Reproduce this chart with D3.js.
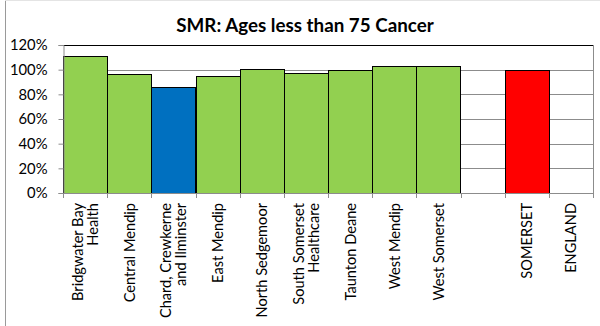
<!DOCTYPE html>
<html><head><meta charset="utf-8">
<script src="https://cdn.jsdelivr.net/npm/d3@7"></script>
<style>html,body{margin:0;padding:0;background:#fff;}svg{display:block;font-family:Lato,"Open Sans",sans-serif;}</style>
</head><body>
<script>
const categories = ["Bridgwater Bay Health","Central Mendip","Chard, Crewkerne and Ilminster","East Mendip","North Sedgemoor","South Somerset Healthcare","Taunton Deane","West Mendip","West Somerset","","SOMERSET","ENGLAND"];
const labelLines = [["Bridgwater Bay","Health"],["Central Mendip"],["Chard, Crewkerne","and Ilminster"],["East Mendip"],["North Sedgemoor"],["South Somerset","Healthcare"],["Taunton Deane"],["West Mendip"],["West Somerset"],[],["SOMERSET"],["ENGLAND"]];
const values = [111.3, 96.3, 86.3, 95.2, 100.4, 97.4, 99.6, 102.7, 103.2, null, 100, null];
const barColors = ["#92D050","#92D050","#0070C0","#92D050","#92D050","#92D050","#92D050","#92D050","#92D050",null,"#FF0000",null];
const yTicks = [0,20,40,60,80,100,120];
const title = "SMR: Ages less than 75 Cancer";

const W=600,H=326;
const svg=d3.select("body").append("svg").attr("width",W).attr("height",H);
const L=63,R=593,T=45,B=193;
const x=d3.scaleBand().domain(categories.map((d,i)=>i)).range([L,R]).padding(0);
const y=d3.scaleLinear().domain([0,120]).range([B,T]);

// outer frame
svg.append("line").attr("x1",5.5).attr("x2",5.5).attr("y1",0).attr("y2",H).attr("stroke","#9a9a9a");
svg.append("line").attr("x1",5).attr("x2",W).attr("y1",0.5).attr("y2",0.5).attr("stroke","#e4e4e4");

// title
svg.append("text").attr("x",305).attr("y",31.5).attr("text-anchor","middle")
  .attr("font-weight","bold").attr("font-size",18.8).attr("fill","#000").text(title);

// gridlines
svg.append("g").selectAll("line").data(yTicks.filter(t=>t>0)).join("line")
  .attr("x1",L).attr("x2",R).attr("y1",d=>Math.round(y(d))+0.5).attr("y2",d=>Math.round(y(d))+0.5)
  .attr("stroke",d=>d===120?"#000":"#8c8c8c").attr("stroke-width",1);

// bars
svg.append("g").selectAll("rect").data(values.map((v,i)=>({v,i})).filter(d=>d.v!=null)).join("rect")
  .attr("x",d=>Math.round(x(d.i))+0.5).attr("width",d=>Math.round(x.bandwidth()))
  .attr("y",d=>Math.round(y(d.v))+0.5).attr("height",d=>B-Math.round(y(d.v)))
  .attr("fill",d=>barColors[d.i]).attr("stroke","#000").attr("stroke-width",1);

// right border
svg.append("line").attr("x1",R+0.5).attr("x2",R+0.5).attr("y1",T).attr("y2",B).attr("stroke","#8c8c8c");

// y axis
const yAxis=d3.axisLeft(y).tickValues(yTicks).tickFormat(d=>d+"%").tickSize(5).tickPadding(11);
const gy=svg.append("g").attr("transform",`translate(${L+0.5},0)`).call(yAxis);
gy.select(".domain").attr("stroke","#8c8c8c");
gy.selectAll(".tick line").attr("stroke","#8c8c8c");
gy.selectAll("text").attr("font-size",14.8).attr("font-family","Lato").attr("fill","#000");

// x axis line and ticks at boundaries
svg.append("line").attr("x1",L).attr("x2",R+1).attr("y1",B+0.5).attr("y2",B+0.5).attr("stroke","#8c8c8c");
const bounds=categories.map((d,i)=>x(i)).concat([R]);
svg.append("g").selectAll("line").data(bounds).join("line")
  .attr("x1",d=>Math.round(d)+0.5).attr("x2",d=>Math.round(d)+0.5).attr("y1",B).attr("y2",B+5).attr("stroke","#8c8c8c");

// x labels rotated
const lh=15;
const gx=svg.append("g");
labelLines.forEach((lines,i)=>{
  if(!lines.length) return;
  const cx=x(i)+x.bandwidth()/2;
  const n=lines.length;
  lines.forEach((t,j)=>{
    const off=(j-(n-1)/2)*lh;
    gx.append("text").attr("transform",`translate(${cx+off+5.5},203) rotate(-90)`)
      .attr("text-anchor","end").attr("font-size",14.6).attr("fill","#000").text(t);
  });
});
</script>
</body></html>
